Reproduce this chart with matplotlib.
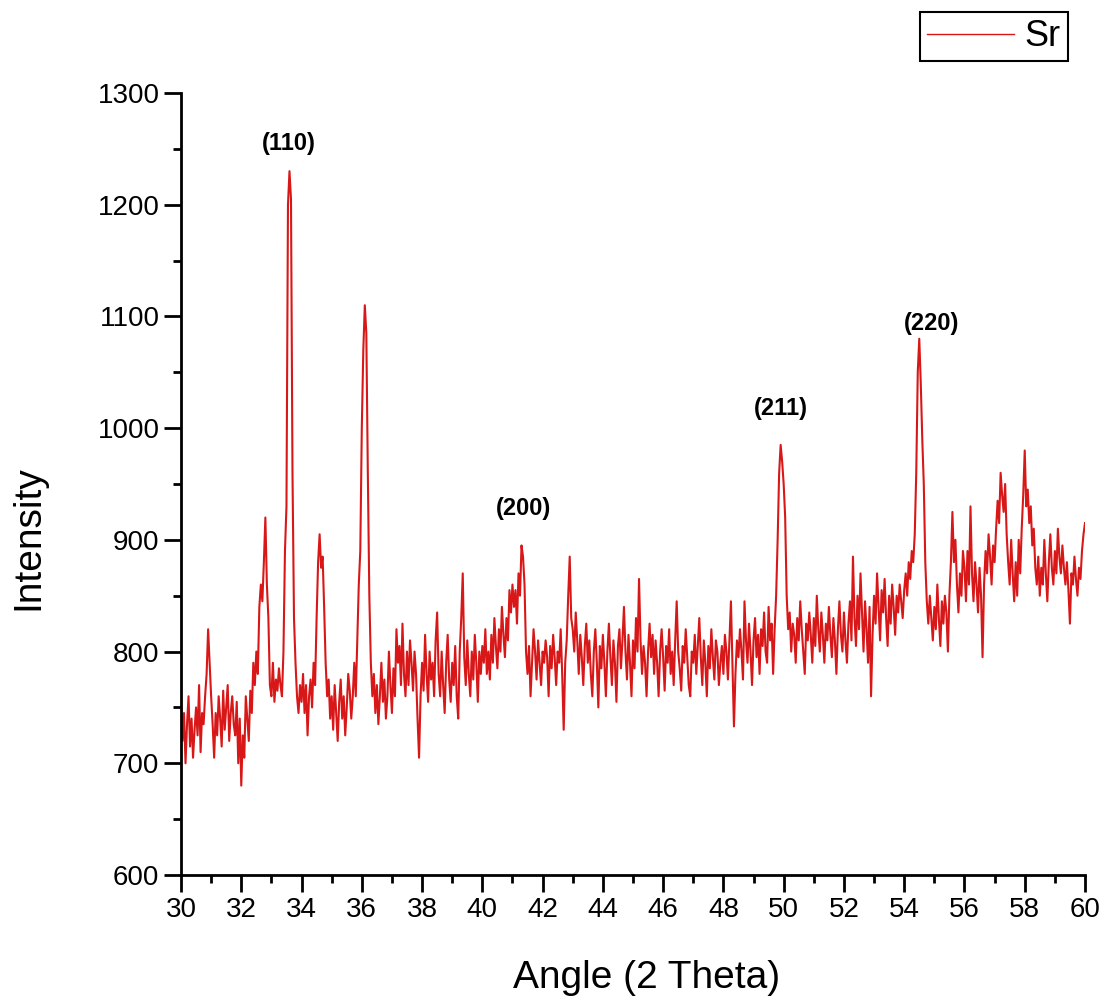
import numpy as np
import matplotlib
matplotlib.use('Agg')
import matplotlib.pyplot as plt
from matplotlib.ticker import MultipleLocator

plt.rcParams['font.family'] = ['Liberation Sans', 'DejaVu Sans']

# 2 theta grid, 0.05 deg step (30.00 ... 60.00)
angle = np.round(np.arange(30.0, 60.0001, 0.05), 2)

# Intensity, one row per degree (20 points each) + final point at 60.0
intensity = [
    755, 720, 745, 700, 735, 760, 715, 740, 705, 730, 750, 725, 770, 710, 745, 735, 760, 780, 820, 790,      # 30
    760, 735, 705, 745, 725, 760, 740, 715, 765, 730, 750, 770, 720, 745, 760, 735, 725, 755, 700, 740,      # 31
    680, 725, 705, 760, 740, 720, 765, 745, 790, 770, 800, 780, 840, 860, 845, 880, 920, 860, 830, 770,      # 32
    760, 790, 755, 775, 765, 785, 770, 760, 800, 890, 930, 1200, 1230, 1205, 960, 830, 790, 760, 745, 770,   # 33
    755, 780, 745, 770, 725, 760, 775, 750, 790, 770, 830, 880, 905, 875, 885, 840, 790, 760, 775, 740,      # 34
    760, 730, 770, 745, 720, 755, 775, 740, 760, 725, 750, 780, 765, 740, 760, 790, 760, 810, 860, 890,      # 35
    1000, 1070, 1110, 1085, 960, 850, 790, 760, 780, 745, 770, 735, 760, 790, 755, 775, 740, 760, 800, 770,  # 36
    745, 785, 760, 820, 790, 805, 770, 825, 780, 760, 800, 770, 810, 790, 765, 800, 780, 740, 705, 760,      # 37
    790, 765, 815, 780, 755, 800, 775, 790, 760, 810, 835, 780, 760, 800, 770, 745, 790, 815, 775, 755,      # 38
    790, 770, 805, 760, 740, 800, 830, 870, 795, 770, 810, 780, 760, 800, 775, 815, 790, 755, 800, 780,      # 39
    805, 790, 820, 780, 800, 775, 815, 790, 830, 805, 785, 820, 800, 840, 815, 795, 830, 810, 855, 835,      # 40
    860, 840, 855, 825, 870, 850, 895, 885, 860, 800, 780, 805, 760, 790, 820, 800, 775, 810, 790, 770,      # 41
    800, 790, 810, 795, 760, 805, 785, 815, 795, 770, 800, 790, 820, 780, 730, 790, 810, 850, 885, 830,      # 42
    820, 800, 835, 810, 780, 815, 795, 770, 805, 825, 790, 810, 780, 760, 800, 820, 790, 750, 805, 785,      # 43
    815, 790, 760, 800, 825, 795, 770, 810, 790, 755, 805, 820, 785, 810, 840, 800, 775, 815, 790, 760,      # 44
    810, 785, 830, 800, 865, 810, 780, 805, 790, 760, 800, 825, 795, 815, 780, 810, 790, 760, 800, 820,      # 45
    795, 765, 805, 790, 820, 780, 800, 770, 810, 845, 800, 785, 765, 805, 790, 820, 795, 770, 760, 800,      # 46
    790, 815, 780, 805, 830, 795, 770, 810, 790, 760, 805, 785, 820, 795, 775, 810, 800, 770, 790, 805,      # 47
    780, 815, 800, 775, 810, 845, 790, 733, 780, 810, 795, 820, 800, 775, 845, 810, 790, 825, 800, 770,      # 48
    810, 830, 795, 815, 780, 820, 805, 835, 800, 790, 840, 810, 825, 780, 820, 850, 900, 960, 985, 970,      # 49
    950, 920, 850, 820, 835, 800, 825, 815, 790, 830, 810, 845, 820, 800, 780, 825, 810, 835, 815, 790,      # 50
    830, 805, 850, 820, 800, 835, 815, 790, 825, 810, 840, 815, 795, 830, 810, 780, 820, 845, 815, 800,      # 51
    835, 810, 790, 825, 845, 810, 885, 830, 805, 850, 820, 870, 835, 800, 845, 820, 790, 840, 760, 815,      # 52
    850, 825, 870, 840, 810, 855, 835, 865, 830, 805, 850, 825, 860, 840, 815, 850, 835, 860, 845, 830,      # 53
    855, 870, 850, 880, 865, 890, 880, 905, 960, 1050, 1080, 1040, 990, 950, 880, 845, 825, 850, 830, 810,   # 54
    840, 820, 860, 830, 805, 845, 825, 850, 835, 800, 850, 880, 925, 880, 900, 860, 835, 870, 850, 890,      # 55
    875, 845, 890, 860, 930, 870, 845, 880, 860, 835, 875, 850, 795, 860, 890, 870, 905, 885, 860, 895,      # 56
    880, 910, 935, 915, 960, 940, 925, 950, 905, 880, 860, 900, 870, 845, 880, 850, 900, 870, 910, 940,      # 57
    980, 930, 945, 915, 930, 895, 910, 875, 860, 885, 850, 875, 860, 900, 870, 845, 880, 905, 875, 860,      # 58
    890, 870, 910, 885, 870, 895, 875, 860, 880, 855, 825, 870, 860, 885, 865, 850, 875, 865, 890, 905,      # 59
    915,                                                                                                     # 60
]

# peak labels
peak_labels = ['(110)', '(200)', '(211)', '(220)']
peak_x = [33.58, 41.38, 49.91, 54.9]
peak_y = [1255, 928, 1018, 1094]


def main():
    fig = plt.figure(figsize=(11.05, 10.06), dpi=100)
    ax = fig.add_axes([0.1638, 0.1302, 0.8181, 0.7774])

    line, = ax.plot(angle, intensity, color='#d81818', linewidth=1.5, label='Sr')

    for lab, px, py in zip(peak_labels, peak_x, peak_y):
        ax.text(px, py, lab, ha='center', va='center', fontsize=17, fontweight='bold')

    ax.set_xlim(30, 60)
    ax.set_ylim(600, 1300)
    ax.xaxis.set_major_locator(MultipleLocator(2))
    ax.xaxis.set_minor_locator(MultipleLocator(1))
    ax.yaxis.set_major_locator(MultipleLocator(100))
    ax.yaxis.set_minor_locator(MultipleLocator(50))

    for s in ['top', 'right']:
        ax.spines[s].set_visible(False)
    for s in ['left', 'bottom']:
        ax.spines[s].set_linewidth(2)

    ax.tick_params(which='major', direction='out', length=12, width=2, labelsize=20)
    ax.tick_params(which='minor', direction='out', length=6, width=2)

    ax.set_xlabel('Angle (2 Theta)', fontsize=28)
    ax.set_ylabel('Intensity', fontsize=28)
    ax.xaxis.set_label_coords(0.515, -0.109)
    ax.yaxis.set_label_coords(-0.149, 0.431)

    leg = fig.legend(handles=[line], loc='upper right', bbox_to_anchor=(1068 / 1105, 1 - 12 / 1006),
                     borderaxespad=0, fontsize=26, fancybox=False, edgecolor='black', framealpha=1,
                     handlelength=2.4, borderpad=0.2, handletextpad=0.3)
    leg.get_frame().set_linewidth(1.5)
    leg.get_lines()[0].set_linewidth(1.0)

    fig.savefig('out.png', dpi=100)
    plt.close(fig)


if __name__ == '__main__':
    main()
